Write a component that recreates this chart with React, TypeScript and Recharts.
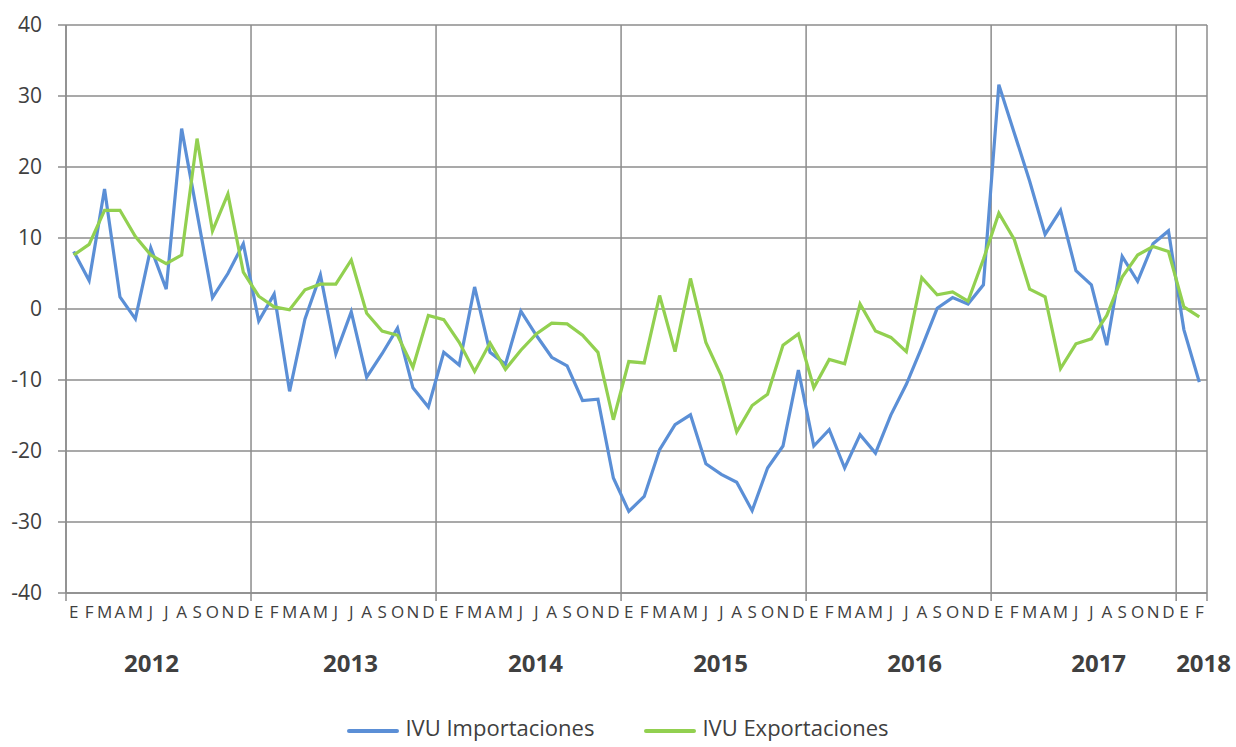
import { LineChart, Line, XAxis, YAxis, CartesianGrid, Legend } from 'recharts';

const MONTHS = ['E', 'F', 'M', 'A', 'M', 'J', 'J', 'A', 'S', 'O', 'N', 'D'];
const YEARS = ['2012', '2013', '2014', '2015', '2016', '2017', '2018'];
const Y_TICKS = [-40, -30, -20, -10, 0, 10, 20, 30, 40];

const IMPORTACIONES = [
  8.1, 4.0, 16.9, 1.7, -1.4, 8.6, 2.8, 25.4, 13.5, 1.6, 5.0, 9.2,
  -1.7, 2.1, -11.6, -1.4, 4.8, -6.3, -0.4, -9.6, -6.3, -2.7, -11.1, -13.8,
  -6.1, -7.9, 3.1, -6.1, -7.8, -0.3, -3.7, -6.8, -8.0, -12.9, -12.7, -23.8,
  -28.5, -26.4, -19.8, -16.3, -14.9, -21.8, -23.3, -24.4, -28.4, -22.4, -19.3, -8.6,
  -19.3, -17.0, -22.4, -17.7, -20.3, -14.9, -10.6, -5.4, 0.1, 1.6, 0.7, 3.4,
  31.6, 24.8, 18.0, 10.5, 13.9, 5.4, 3.4, -5.1, 7.4, 3.9, 9.2, 11.0,
  -2.9, -10.3,
];

const EXPORTACIONES = [
  7.6, 9.1, 13.9, 13.9, 10.2, 7.6, 6.4, 7.6, 24.0, 11.0, 16.2, 5.2,
  1.8, 0.3, -0.1, 2.7, 3.5, 3.5, 6.9, -0.6, -3.1, -3.7, -8.2, -0.9,
  -1.5, -4.7, -8.8, -4.8, -8.5, -5.8, -3.5, -2.0, -2.1, -3.7, -6.1, -15.6,
  -7.4, -7.6, 1.9, -6.0, 4.3, -4.7, -9.4, -17.3, -13.6, -12.0, -5.1, -3.5,
  -11.1, -7.1, -7.7, 0.7, -3.1, -4.0, -6.0, 4.4, 2.0, 2.4, 1.1, 7.0,
  13.5, 9.8, 2.8, 1.7, -8.4, -4.9, -4.2, -0.9, 4.5, 7.6, 8.8, 8.1,
  0.3, -1.1,
];

const data = IMPORTACIONES.map((v, i) => ({
  mes: MONTHS[i % 12],
  anio: YEARS[Math.floor(i / 12)],
  imp: v,
  exp: EXPORTACIONES[i],
}));

const W = 1236;
const H = 747;
const MARGIN = { top: 25, right: 29, bottom: 20, left: 0 };
const Y_AXIS_W = 66;
const PLOT_W = W - MARGIN.left - MARGIN.right - Y_AXIS_W;
const BAND = PLOT_W / data.length;
const GRID = '#8c8c8c';
const TEXT = '#404040';
const FONT = '"Open Sans", "Noto Sans", sans-serif';
const BLUE = '#5b8fd6';
const GREEN = '#92d050';
// small nudges so year labels sit like in the original
const YEAR_SHIFT = [-7, 7, 7, 7, 16, 15, 12];

const MonthTick = ({ x, y, payload }: any) => {
  const i = payload.index;
  const start = i % 12 === 0;
  const last = i === data.length - 1;
  return (
    <g>
      {start && <line x1={x - BAND / 2} x2={x - BAND / 2} y1={y} y2={y + 8} stroke={GRID} strokeWidth={1.5} />}
      {last && <line x1={x + BAND / 2} x2={x + BAND / 2} y1={y} y2={y + 8} stroke={GRID} strokeWidth={1.5} />}
      <text x={x} y={y + 25} textAnchor="middle" fontSize={17} fill={TEXT} fontFamily={FONT}>
        {payload.value}
      </text>
    </g>
  );
};

const YearTick = ({ x, y, payload }: any) => {
  const i = payload.index;
  if (i % 12 !== 0) return null;
  const y0 = Math.floor(i / 12);
  const months = Math.min(12, data.length - i);
  const cx = x - BAND / 2 + (months * BAND) / 2 + YEAR_SHIFT[y0];
  return (
    <text x={cx} y={y + 39} textAnchor="middle" fontSize={24} fontWeight="bold" fill={TEXT} fontFamily={FONT}>
      {data[i].anio}
    </text>
  );
};

const LegendContent = () => (
  <div style={{ display: 'flex', justifyContent: 'center', gap: 50, fontFamily: FONT, fontSize: 22, color: TEXT, height: 26, lineHeight: '26px' }}>
    {[
      { name: 'IVU Importaciones', color: BLUE },
      { name: 'IVU Exportaciones', color: GREEN },
    ].map((s) => (
      <div key={s.name} style={{ display: 'flex', alignItems: 'center' }}>
        <span style={{ display: 'inline-block', width: 52, height: 4, borderRadius: 2, background: s.color, marginRight: 6, marginTop: 8 }} />
        <span>{s.name}</span>
      </div>
    ))}
  </div>
);

export default function App() {
  return (
    <div style={{ position: 'absolute', left: 0, top: 0, width: W, height: H, background: '#fff', overflow: 'hidden' }}>
      <LineChart width={W} height={H} data={data} margin={MARGIN}>
        <CartesianGrid
          stroke={GRID}
          strokeWidth={1.5}
          verticalCoordinatesGenerator={({ offset }: any) => {
            const pts: number[] = [];
            for (let k = 0; k * 12 < data.length; k++) pts.push(offset.left + k * 12 * BAND);
            pts.push(offset.left + offset.width);
            return pts;
          }}
        />
        <XAxis
          dataKey="mes"
          interval={0}
          padding={{ left: BAND / 2, right: BAND / 2 }}
          tickLine={false}
          tickSize={0}
          tickMargin={0}
          height={40}
          axisLine={{ stroke: GRID, strokeWidth: 1.5 }}
          tick={<MonthTick />}
        />
        <XAxis
          dataKey="anio"
          xAxisId="year"
          interval={0}
          padding={{ left: BAND / 2, right: BAND / 2 }}
          tickLine={false}
          axisLine={false}
          tickSize={0}
          tickMargin={0}
          height={68}
          tick={<YearTick />}
        />
        <YAxis
          domain={[-40, 40]}
          ticks={Y_TICKS}
          width={Y_AXIS_W}
          tickSize={8}
          tickMargin={16}
          axisLine={{ stroke: GRID, strokeWidth: 1.5 }}
          tickLine={{ stroke: GRID, strokeWidth: 1.5 }}
          tick={{ fontSize: 21, fill: TEXT, fontFamily: FONT }}
        />
        <Legend verticalAlign="bottom" content={<LegendContent />} wrapperStyle={{ left: 0, width: W, top: 714 }} />
        <Line
          dataKey="imp"
          name="IVU Importaciones"
          stroke={BLUE}
          strokeWidth={3.2}
          dot={false}
          isAnimationActive={false}
        />
        <Line
          dataKey="exp"
          name="IVU Exportaciones"
          stroke={GREEN}
          strokeWidth={3.2}
          dot={false}
          isAnimationActive={false}
        />
      </LineChart>
    </div>
  );
}
